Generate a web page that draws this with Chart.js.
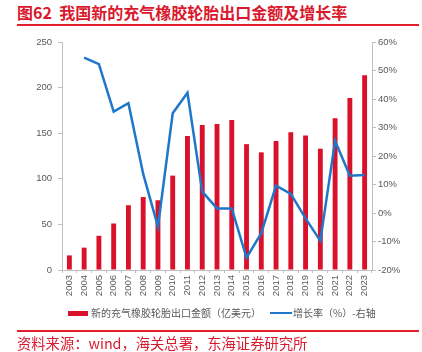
<!DOCTYPE html>
<html>
<head>
<meta charset="utf-8">
<script src="https://cdn.jsdelivr.net/npm/chart.js@4"></script>
<style>
  body { margin: 0; background: #fff; }
  #wrap { position: relative; width: 422px; height: 352px; overflow: hidden; font-family: "Noto Sans CJK SC", sans-serif; }
  #chart { position: absolute; left: 0; top: 0; }
  .title { position: absolute; left: 17px; top: 2px; font-size: 16px; font-weight: bold; color: #d9192e; line-height: 20px; white-space: nowrap; }
  .rule { position: absolute; left: 17px; width: 402px; height: 2px; background: #e0202f; }
  .source { position: absolute; left: 17px; top: 333px; font-size: 14.3px; color: #d9192e; line-height: 19px; white-space: nowrap; }
  .legend { position: absolute; top: 305px; font-size: 10px; color: #595959; line-height: 16px; white-space: nowrap; }
  .swatch { position: absolute; }
</style>
</head>
<body>
<div id="wrap">
  <div class="title">图62&nbsp;&nbsp;我国新的充气橡胶轮胎出口金额及增长率</div>
  <div class="rule" style="top:24px"></div>
  <canvas id="chart" width="422" height="352"></canvas>
  <div class="swatch" style="left:68px;top:311px;width:20px;height:5px;background:#d9112b"></div>
  <div class="legend" style="left:91px">新的充气橡胶轮胎出口金额（亿美元）</div>
  <div class="swatch" style="left:270px;top:312px;width:22px;height:2px;background:#1f77c9"></div>
  <div class="legend" style="left:293px">增长率（%）-右轴</div>
  <div class="rule" style="top:330px"></div>
  <div class="source">资料来源：wind，海关总署，东海证券研究所</div>
</div>
<script>
const years = ['2003', '2004', '2005', '2006', '2007', '2008', '2009', '2010', '2011', '2012',
  '2013', '2014', '2015', '2016', '2017', '2018', '2019', '2020', '2021', '2022', '2023'];
const exportValue = [16, 24.5, 37.5, 51, 71, 80, 76.5, 103.5, 147, 159,
  160, 164.5, 138, 129, 141.5, 151, 147.5, 133, 166.5, 188.5, 213.5];
const growthRate = [null, 54.5, 52.2, 35.6, 38.5, 13.7, -4.8, 35, 42.2, 7.5,
  1.6, 1.6, -15.7, -7.1, 9.6, 6.7, -1.9, -9.8, 25.3, 13.1, 13.3];

const tickFont = { family: '"Liberation Sans", Arial, sans-serif', size: 9.5 };
const axisGrey = '#bfbfbf';

new Chart(document.getElementById('chart').getContext('2d'), {
  data: {
    labels: years,
    datasets: [
      {
        type: 'line',
        label: '增长率（%）-右轴',
        data: growthRate,
        borderColor: '#1f77c9',
        borderWidth: 2.5,
        pointRadius: 0,
        tension: 0,
        fill: false,
        yAxisID: 'y1'
      },
      {
        type: 'bar',
        label: '新的充气橡胶轮胎出口金额（亿美元）',
        data: exportValue,
        backgroundColor: '#d9112b',
        categoryPercentage: 0.6,
        barPercentage: 0.55,
        yAxisID: 'y'
      }
    ]
  },
  options: {
    responsive: false,
    animation: false,
    layout: { padding: { top: 42, left: 0, right: 0, bottom: 42 } },
    plugins: { legend: { display: false }, tooltip: { enabled: false } },
    scales: {
      x: {
        offset: true,
        grid: { display: true, drawOnChartArea: false, color: axisGrey, tickLength: 3, offset: true },
        border: { color: axisGrey },
        ticks: { font: tickFont, color: '#595959', minRotation: 90, maxRotation: 90, padding: 2, autoSkip: false },
        afterFit: s => { s.height = 40; }
      },
      y: {
        position: 'left',
        min: 0,
        max: 250,
        grid: { display: true, drawOnChartArea: false, color: axisGrey, tickLength: 4 },
        border: { color: axisGrey },
        ticks: { stepSize: 50, font: tickFont, color: '#595959', padding: 6 },
        afterFit: s => { s.width = 62; }
      },
      y1: {
        position: 'right',
        min: -20,
        max: 60,
        grid: { display: true, drawOnChartArea: false, color: axisGrey, tickLength: 4 },
        border: { color: axisGrey },
        ticks: { stepSize: 10, font: tickFont, color: '#595959', padding: 2, callback: v => v + '%' },
        afterFit: s => { s.width = 50; }
      }
    }
  }
});
</script>
</body>
</html>
